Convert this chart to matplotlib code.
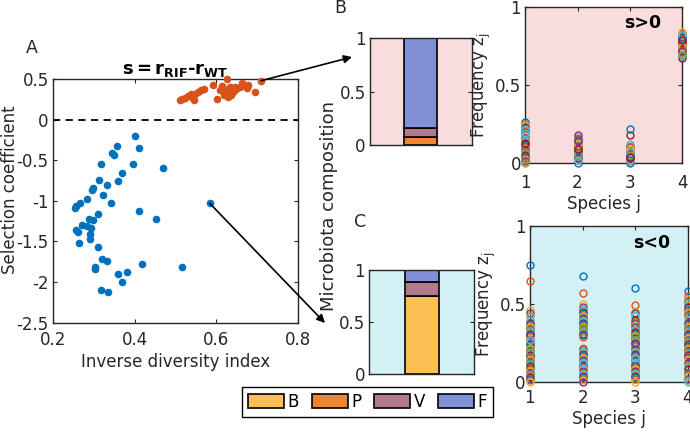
import matplotlib
matplotlib.use('Agg')
import matplotlib.pyplot as plt
from matplotlib.patches import Patch
import numpy as np

plt.rcParams['font.family'] = ['DejaVu Sans']
plt.rcParams['mathtext.fontset'] = 'dejavusans'
plt.rcParams['axes.unicode_minus'] = False

# panel A: inverse diversity index vs selection coefficient
neg_x = [0.401, 0.411, 0.358, 0.345, 0.350, 0.318, 0.396, 0.469, 0.370, 0.313,
         0.360, 0.333, 0.297, 0.295, 0.322, 0.342, 0.284, 0.265, 0.256, 0.255,
         0.584, 0.411, 0.453, 0.310, 0.287, 0.298, 0.271, 0.283, 0.257, 0.261,
         0.294, 0.290, 0.290, 0.263, 0.311, 0.319, 0.332, 0.303, 0.304, 0.417,
         0.517, 0.360, 0.382, 0.370, 0.318, 0.334]
neg_y = [-0.20, -0.35, -0.32, -0.41, -0.44, -0.55, -0.55, -0.60, -0.66, -0.74,
         -0.76, -0.81, -0.84, -0.87, -0.93, -1.02, -0.98, -1.03, -1.06, -1.09,
         -1.03, -1.12, -1.22, -1.16, -1.22, -1.24, -1.30, -1.31, -1.36, -1.38,
         -1.34, -1.41, -1.47, -1.52, -1.57, -1.71, -1.74, -1.81, -1.84, -1.78,
         -1.82, -1.90, -1.88, -2.00, -2.10, -2.12]
pos_x = [0.510, 0.517, 0.523, 0.530, 0.537, 0.545, 0.549, 0.556, 0.562, 0.569,
         0.627, 0.592, 0.614, 0.602, 0.624, 0.633, 0.620, 0.641, 0.649, 0.628,
         0.657, 0.663, 0.678, 0.674, 0.694, 0.710, 0.637, 0.608, 0.645, 0.540]
pos_y = [0.24, 0.25, 0.27, 0.29, 0.31, 0.24, 0.32, 0.34, 0.36, 0.38,
         0.50, 0.43, 0.41, 0.25, 0.36, 0.40, 0.30, 0.34, 0.38, 0.28,
         0.40, 0.45, 0.43, 0.39, 0.34, 0.48, 0.30, 0.36, 0.40, 0.28]

# panels B and C: example compositions (B, P, V, F)
species = ['B', 'P', 'V', 'F']
comp_pos = [0.0, 0.08, 0.08, 0.84]
comp_neg = [0.75, 0.005, 0.13, 0.115]
bar_colors = ['#FBBF55', '#EE8530', '#B27A8A', '#8090D6']

# right panels: frequency of each species, one row per community
z_pos = {
    1: [0.26, 0.25, 0.24, 0.23, 0.22, 0.21, 0.20, 0.19, 0.18, 0.17, 0.16, 0.15, 0.14, 0.12,
        0.11, 0.10, 0.09, 0.08, 0.07, 0.06, 0.05, 0.04, 0.03, 0.02, 0.01, 0.00, 0.19, 0.13],
    2: [0.00, 0.02, 0.03, 0.04, 0.05, 0.06, 0.07, 0.08, 0.09, 0.10, 0.11, 0.12, 0.13, 0.14,
        0.15, 0.16, 0.17, 0.18, 0.05, 0.04, 0.03, 0.08, 0.10, 0.12, 0.14, 0.06, 0.02, 0.09],
    3: [0.00, 0.01, 0.02, 0.03, 0.04, 0.05, 0.06, 0.07, 0.08, 0.09, 0.10, 0.11, 0.12, 0.18,
        0.22, 0.05, 0.06, 0.07, 0.08, 0.02, 0.03, 0.04, 0.10, 0.09, 0.06, 0.05, 0.07, 0.04],
    4: [0.74, 0.72, 0.71, 0.70, 0.69, 0.68, 0.67, 0.75, 0.76, 0.77, 0.78, 0.79, 0.80, 0.81,
        0.82, 0.83, 0.84, 0.73, 0.71, 0.70, 0.78, 0.80, 0.76, 0.74, 0.72, 0.69, 0.82, 0.79],
}
z_neg = {
    1: [0.75, 0.65, 0.46, 0.44, 0.42, 0.40, 0.38, 0.37, 0.36, 0.35, 0.34, 0.33, 0.32, 0.31,
        0.30, 0.29, 0.28, 0.27, 0.26, 0.25, 0.24, 0.23, 0.22, 0.21, 0.20, 0.19, 0.18, 0.17,
        0.16, 0.15, 0.14, 0.13, 0.12, 0.11, 0.10, 0.09, 0.08, 0.07, 0.06, 0.05, 0.04, 0.03,
        0.02, 0.01, 0.00, 0.31, 0.19, 0.27],
    2: [0.68, 0.57, 0.50, 0.48, 0.47, 0.46, 0.45, 0.44, 0.43, 0.42, 0.41, 0.40, 0.39, 0.38,
        0.37, 0.36, 0.35, 0.34, 0.33, 0.32, 0.31, 0.30, 0.29, 0.22, 0.21, 0.20, 0.19, 0.18,
        0.17, 0.16, 0.15, 0.14, 0.13, 0.12, 0.11, 0.10, 0.09, 0.08, 0.07, 0.06, 0.05, 0.04,
        0.03, 0.02, 0.01, 0.00, 0.36, 0.12],
    3: [0.60, 0.49, 0.45, 0.44, 0.43, 0.42, 0.40, 0.38, 0.37, 0.36, 0.35, 0.34, 0.33, 0.32,
        0.31, 0.30, 0.29, 0.28, 0.27, 0.26, 0.25, 0.24, 0.23, 0.22, 0.21, 0.20, 0.19, 0.18,
        0.17, 0.16, 0.15, 0.14, 0.13, 0.12, 0.11, 0.10, 0.09, 0.08, 0.07, 0.06, 0.05, 0.04,
        0.03, 0.02, 0.00, 0.25, 0.30, 0.15],
    4: [0.58, 0.55, 0.53, 0.52, 0.51, 0.50, 0.48, 0.46, 0.45, 0.44, 0.43, 0.42, 0.40, 0.38,
        0.37, 0.36, 0.35, 0.34, 0.33, 0.32, 0.31, 0.30, 0.29, 0.28, 0.27, 0.26, 0.25, 0.24,
        0.23, 0.22, 0.21, 0.20, 0.19, 0.18, 0.17, 0.16, 0.15, 0.14, 0.12, 0.10, 0.09, 0.08,
        0.06, 0.05, 0.04, 0.02, 0.01, 0.00],
}

mat_colors = ['#0072BD', '#D95319', '#EDB120', '#7E2F8E', '#77AC30', '#4DBEEE', '#A2142F']
dark = '#262626'
fs = 12


def style(ax):
    ax.tick_params(direction='in', length=3, width=0.8, top=True, right=True,
                   labelsize=fs, colors=dark, pad=3)
    for sp in ax.spines.values():
        sp.set_linewidth(1.0)
        sp.set_color(dark)


fig = plt.figure(figsize=(6.9, 4.32), dpi=100)

# ---- panel A
axA = fig.add_axes([0.0768, 0.253, 0.355, 0.564])
axA.scatter(neg_x, neg_y, s=20, color=mat_colors[0], zorder=3)
axA.scatter(pos_x, pos_y, s=20, color=mat_colors[1], zorder=3, clip_on=False)
axA.axhline(0, color='k', lw=1.3, ls=(0, (4, 3)))
axA.set_xlim(0.2, 0.8)
axA.set_ylim(-2.5, 0.5)
axA.set_xticks([0.2, 0.4, 0.6, 0.8])
axA.set_yticks([-2.5, -2, -1.5, -1, -0.5, 0, 0.5])
axA.set_yticklabels(['-2.5', '-2', '-1.5', '-1', '-0.5', '0', '0.5'])
style(axA)
axA.tick_params(axis='x', pad=6)
axA.set_xlabel('Inverse diversity index', fontsize=fs, color=dark, labelpad=3)
axA.set_ylabel('Selection coefficient', fontsize=fs, color=dark)
axA.yaxis.set_label_coords(-0.139, 0.545)
axA.set_title(r'$\mathbf{s=r_{RIF}}$' + '-' + r'$\mathbf{r_{WT}}$', fontsize=13,
              fontweight='bold', pad=4)

# ---- bar panels
def comp_panel(rect, comp, bg):
    ax = fig.add_axes(rect)
    ax.set_facecolor(bg)
    bottoms = np.concatenate([[0], np.cumsum(comp)[:-1]])
    for v, b, c in zip(comp, bottoms, bar_colors):
        ax.bar(1.5, v, width=0.97, bottom=b, color=c, edgecolor='k', lw=1.2)
    ax.set_xlim(0, 3)
    ax.set_ylim(0, 1)
    ax.set_xticks([])
    ax.set_yticks([0, 0.5, 1])
    ax.set_yticklabels(['0', '0.5', '1'])
    style(ax)
    return ax

axB = comp_panel([0.536, 0.664, 0.148, 0.248], comp_pos, '#F9DCDC')
axC = comp_panel([0.535, 0.134, 0.152, 0.241], comp_neg, '#D3F0F5')
fig.text(329 / 690, 1 - 206 / 432, 'Microbiota composition', rotation=90,
         ha='center', va='center', fontsize=13, color=dark)

# ---- frequency panels
def freq_panel(rect, z, bg, tag, tagpos, xpad):
    ax = fig.add_axes(rect)
    ax.set_facecolor(bg)
    n = len(z[1])
    for i in range(n):
        ax.plot([1, 2, 3, 4], [z[1][i], z[2][i], z[3][i], z[4][i]], 'o', mfc='none',
                mec=mat_colors[i % 7], ms=5, mew=1.0, clip_on=False, zorder=3)
    ax.set_xlim(1, 4)
    ax.set_ylim(0, 1)
    ax.set_xticks([1, 2, 3, 4])
    ax.set_yticks([0, 0.5, 1])
    ax.set_yticklabels(['0', '0.5', '1'])
    style(ax)
    ax.tick_params(axis='x', pad=xpad)
    ax.set_xlabel('Species j', fontsize=fs, color=dark, labelpad=2)
    ax.set_ylabel(r'Frequency z$_\mathregular{j}$', fontsize=fs, color=dark, labelpad=1)
    ax.text(tagpos[0], tagpos[1], tag, transform=ax.transAxes, ha='center', va='center',
            fontsize=12.5, fontweight='bold')
    return ax

axD = freq_panel([0.761, 0.623, 0.228, 0.361], z_pos, '#F9DCDC', 's>0', (0.745, 0.90), 8)
axE = freq_panel([0.768, 0.116, 0.229, 0.361], z_neg, '#D3F0F5', 's<0', (0.77, 0.89), 5)

# ---- arrows
axA.annotate('', xy=(352 / 690, 1 - 57 / 432), xycoords='figure fraction',
             xytext=(0.71, 0.48), textcoords='data',
             arrowprops=dict(arrowstyle='-|>', color='k', lw=1.2, shrinkA=0, shrinkB=0,
                             mutation_scale=12))
axA.annotate('', xy=(325 / 690, 1 - 323 / 432), xycoords='figure fraction',
             xytext=(0.584, -1.03), textcoords='data',
             arrowprops=dict(arrowstyle='-|>', color='k', lw=1.2, shrinkA=0, shrinkB=0,
                             mutation_scale=12))

# ---- panel letters
fig.text(32 / 690, 1 - 48 / 432, 'A', ha='center', va='center', fontsize=12.5, color=dark)
fig.text(340 / 690, 1 - 8 / 432, 'B', ha='center', va='center', fontsize=12.5, color=dark)
fig.text(360 / 690, 1 - 222 / 432, 'C', ha='center', va='center', fontsize=12.5, color=dark)

# ---- legend
handles = [Patch(facecolor=c, edgecolor='k', lw=1.2, label=l) for c, l in zip(bar_colors, species)]
leg = fig.legend(handles=handles, ncol=4, loc='center', bbox_to_anchor=(0.5326, 0.0694),
                 frameon=True, fancybox=False, edgecolor='k', framealpha=1,
                 handlelength=2.15, handleheight=0.95, handletextpad=0.2, columnspacing=0.8,
                 fontsize=fs, borderpad=0.35, borderaxespad=0)
leg.get_frame().set_linewidth(1.0)

fig.savefig('out.png', dpi=100)
